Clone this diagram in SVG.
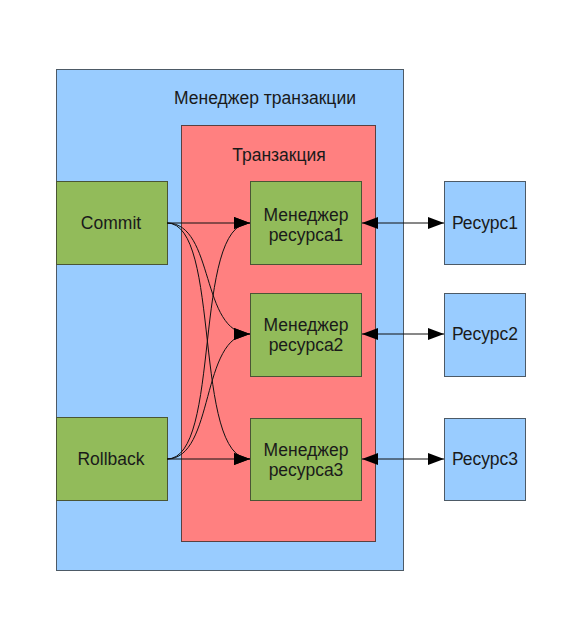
<svg xmlns="http://www.w3.org/2000/svg" width="583" height="640" viewBox="0 0 583 640">
<style>
text{font-family:"Liberation Sans",Arial,sans-serif;font-size:17.5px;fill:#1a1a1a;text-anchor:middle}
.b{fill:#99ccff;stroke:#4d5a66;stroke-width:1}
.r{fill:#ff8080;stroke:#5a4040;stroke-width:1}
.g{fill:#92bb5a;stroke:#4a5535;stroke-width:1}
.c{fill:none;stroke:#111;stroke-width:1}
</style>
<defs>
<marker id="ah" viewBox="0 0 16 12" refX="16" refY="6" markerWidth="16" markerHeight="12" markerUnits="userSpaceOnUse" orient="auto-start-reverse">
<path d="M0,0 L16,6 L0,12 Z" fill="#000"/>
</marker>
</defs>
<rect width="583" height="640" fill="#fff"/>
<g id="tm"><rect class="b" x="56.5" y="69.5" width="347" height="501"/><text x="265" y="104">Менеджер транзакции</text></g>
<g id="tx"><rect class="r" x="181.5" y="125.5" width="194" height="416"/><text x="279" y="161">Транзакция</text></g>
<g id="commit"><rect class="g" x="56.5" y="181.5" width="111" height="83"/><text x="111" y="229">Commit</text></g>
<g id="rollback"><rect class="g" x="56.5" y="417.5" width="111" height="83"/><text x="111" y="465">Rollback</text></g>
<g id="rm1"><rect class="g" x="250.5" y="181.5" width="111" height="83"/><text x="306" y="221">Менеджер</text><text x="306" y="241">ресурса1</text></g>
<g id="rm2"><rect class="g" x="250.5" y="293.5" width="111" height="83"/><text x="306" y="331">Менеджер</text><text x="306" y="351">ресурса2</text></g>
<g id="rm3"><rect class="g" x="250.5" y="418.5" width="111" height="82"/><text x="306" y="456">Менеджер</text><text x="306" y="476">ресурса3</text></g>
<g id="res1"><rect class="b" x="444.5" y="181.5" width="81" height="83"/><text x="485" y="229">Ресурс1</text></g>
<g id="res2"><rect class="b" x="444.5" y="293.5" width="81" height="83"/><text x="485" y="340">Ресурс2</text></g>
<g id="res3"><rect class="b" x="444.5" y="418.5" width="81" height="82"/><text x="485" y="465">Ресурс3</text></g>
<g id="connectors">
<path class="c" d="M167,223 L250,223" marker-end="url(#ah)"/>
<path class="c" d="M167,223 C215,223 200,334 250,334" marker-end="url(#ah)"/>
<path class="c" d="M167,223 C222,223 192,459 250,459" marker-end="url(#ah)"/>
<path class="c" d="M167,459 L250,459" marker-end="url(#ah)"/>
<path class="c" d="M167,459 C215,459 200,334 250,334" marker-end="url(#ah)"/>
<path class="c" d="M167,459 C222,459 192,223 250,223" marker-end="url(#ah)"/>
<path class="c" d="M362,223 L444,223" marker-start="url(#ah)" marker-end="url(#ah)"/>
<path class="c" d="M362,334 L444,334" marker-start="url(#ah)" marker-end="url(#ah)"/>
<path class="c" d="M362,459 L444,459" marker-start="url(#ah)" marker-end="url(#ah)"/>
</g>
</svg>
